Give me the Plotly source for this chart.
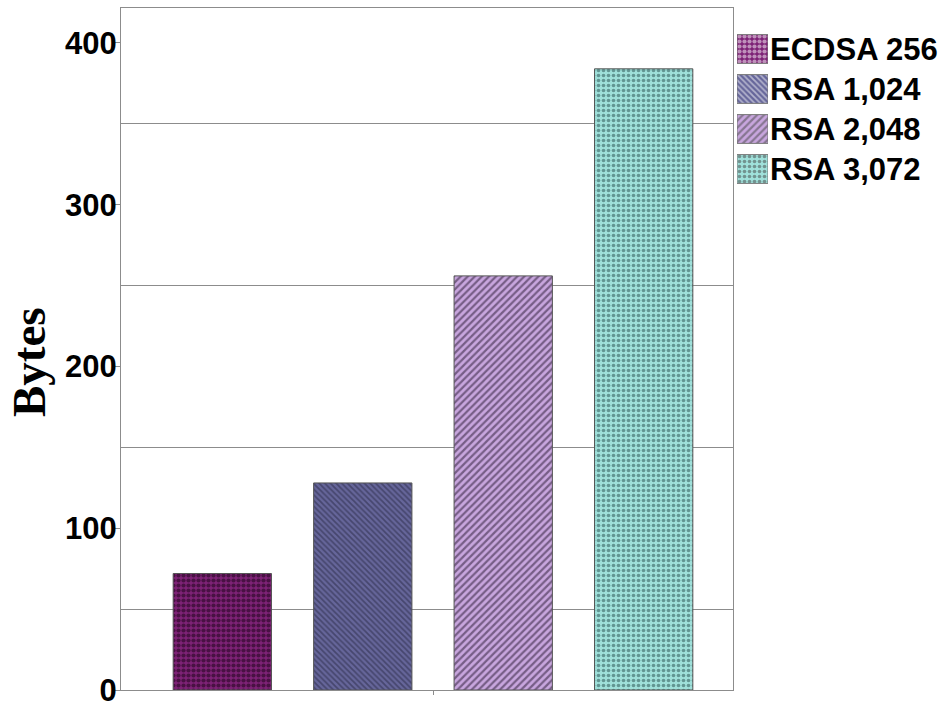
import plotly.graph_objects as go

# Signature sizes per scheme
series = ["ECDSA 256", "RSA 1,024", "RSA 2,048", "RSA 3,072"]
sizes = [72, 128, 256, 384]
category = [""]

# Per-series fill styling
base_colors = ["#7e2276", "#66669a", "#c8a6de", "#9fe0da"]
line_colors = ["#14000f", "#262642", "#24142e", "#234a4a"]
shapes = [".", "\\", "/", "."]
pat_sizes = [5, 4, 5, 5]
solidity = [0.55, 0.45, 0.45, 0.42]

y_ticks = [0, 100, 200, 300, 400]
y_grid = [50, 150, 250, 350]

W, H = 951, 703
ML, MR, MT, MB = 121, 0, 8, 13
PW, PH = W - ML - MR, H - MT - MB

axis_grey = "#8c8c8c"
tick_font = dict(family="Arial, Liberation Sans, sans-serif", size=31, color="black", weight="bold")
key_font = dict(family="Arial, Liberation Sans, sans-serif", size=31, color="black", weight="bold")

fig = go.Figure()

for i, name in enumerate(series):
    fig.add_trace(go.Bar(
        x=category, y=[sizes[i]], name=name, showlegend=False,
        marker=dict(
            color=base_colors[i],
            line=dict(color="#555555", width=1),
            pattern=dict(shape=shapes[i], fgcolor=line_colors[i],
                         size=pat_sizes[i], solidity=solidity[i]),
        ),
        xaxis="x", yaxis="y",
    ))

# Key: one swatch per series with the names as axis labels
fig.add_trace(go.Bar(
    y=series, x=[1] * len(series), orientation="h", width=0.72,
    showlegend=False, hoverinfo="skip",
    marker=dict(
        color=base_colors,
        line=dict(color="#777777", width=1),
        pattern=dict(shape=shapes, fgcolor=line_colors,
                     size=pat_sizes, solidity=solidity),
    ),
    xaxis="x2", yaxis="y2",
))

main_right = 612 / PW
key_x0 = (737 - ML) / PW
key_x1 = (768 - ML) / PW
key_top = 1 - (29 - MT) / PH
key_bot = 1 - (189 - MT) / PH

fig.update_layout(
    width=W, height=H,
    margin=dict(l=ML, r=MR, t=MT, b=MB, pad=0, autoexpand=False),
    paper_bgcolor="white", plot_bgcolor="white",
    barmode="group", bargap=0.082, bargroupgap=0.30,
    xaxis=dict(
        domain=[0, main_right], type="category",
        range=[-0.5098, 0.4902], automargin=False,
        showline=True, linecolor=axis_grey, linewidth=1, mirror=True,
        ticks="outside", ticklen=4, tickcolor=axis_grey,
        showgrid=False, zeroline=False, showticklabels=False,
    ),
    yaxis=dict(
        range=[0, 421.6], tickvals=y_ticks, automargin=False,
        showline=True, linecolor=axis_grey, linewidth=1, mirror=True,
        ticks="outside", ticklen=5, tickcolor=axis_grey,
        tickfont=tick_font, ticklabelstandoff=-8, ticklabeloverflow="allow",
        showgrid=False, zeroline=False,
        minor=dict(tickvals=y_grid, showgrid=True, gridcolor=axis_grey,
                   gridwidth=1, ticks=""),
    ),
    xaxis2=dict(domain=[key_x0, key_x1], range=[0, 1], visible=False,
                anchor="y2", fixedrange=True, automargin=False),
    yaxis2=dict(domain=[key_bot, key_top], type="category",
                range=[len(series) - 0.5, -0.5], anchor="x2", side="right",
                showline=False, ticks="", showgrid=False, zeroline=False,
                tickfont=key_font, ticklabelstandoff=1, fixedrange=True,
                automargin=False),
    annotations=[dict(
        text="<b>Bytes</b>", textangle=-90, showarrow=False,
        xref="paper", yref="paper",
        x=(29 - ML) / PW, y=1 - (362 - MT) / PH,
        xanchor="center", yanchor="middle",
        font=dict(family="Times New Roman, Liberation Serif, serif", size=47, color="black"),
    )],
)

fig.write_html("out.html")
